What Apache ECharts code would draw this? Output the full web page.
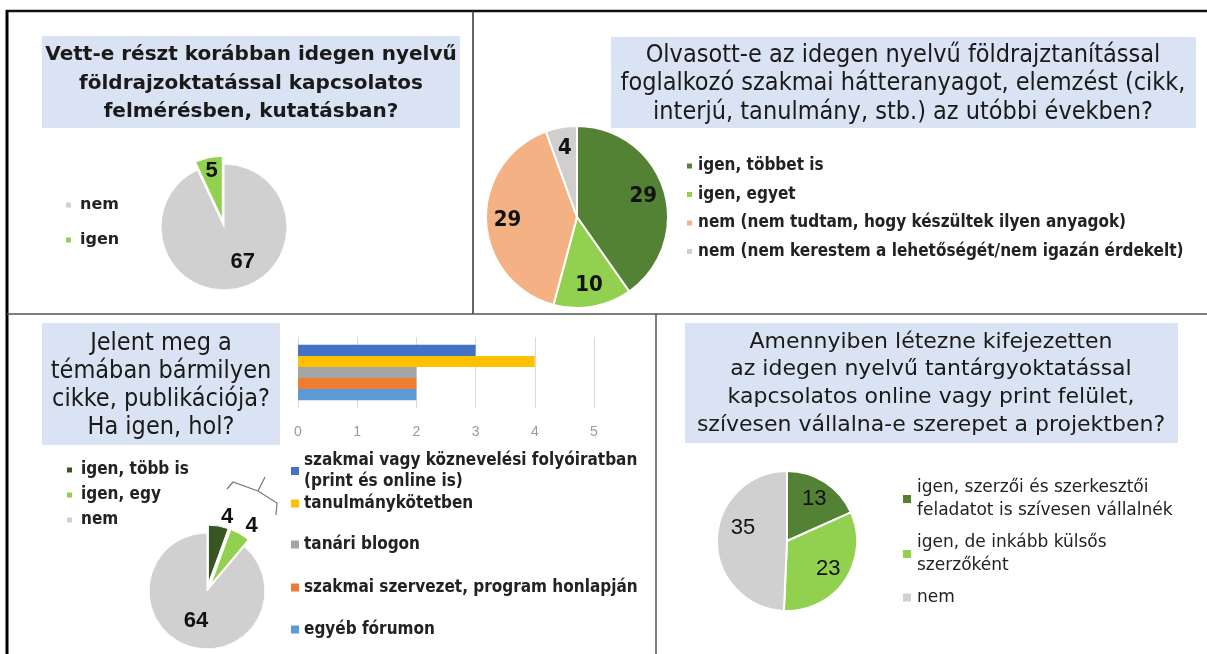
<!DOCTYPE html>
<html>
<head>
<meta charset="utf-8">
<script src="https://cdn.jsdelivr.net/npm/echarts@6/dist/echarts.min.js"></script>
<style>html,body{margin:0;padding:0;background:#fff}#chart{width:1207px;height:654px}</style>
</head>
<body>
<div id="chart"></div>
<script>
// ---- data ----
const q1Title = 'Vett-e részt korábban idegen nyelvű\nföldrajzoktatással kapcsolatos\nfelmérésben, kutatásban?';
const q1Labels = ['nem', 'igen'];
const q1Values = [67, 5];

const q2Title = 'Olvasott-e az idegen nyelvű földrajztanítással\nfoglalkozó szakmai hátteranyagot, elemzést (cikk,\ninterjú, tanulmány, stb.) az utóbbi években?';
const q2Labels = ['igen, többet is', 'igen, egyet', 'nem (nem tudtam, hogy készültek ilyen anyagok)', 'nem (nem kerestem a lehetőségét/nem igazán érdekelt)'];
const q2Values = [29, 10, 29, 4];

const q3Title = 'Jelent meg a\ntémában bármilyen\ncikke, publikációja?\nHa igen, hol?';
const q3Labels = ['igen, több is', 'igen, egy', 'nem'];
const q3Values = [4, 4, 64];

const placeLabels = ['szakmai vagy köznevelési folyóiratban\n(print és online is)', 'tanulmánykötetben', 'tanári blogon', 'szakmai szervezet, program honlapján', 'egyéb fórumon'];
const placeValues = [3, 4, 2, 2, 2];
const placeTicks = [0, 1, 2, 3, 4, 5];

const q4Title = 'Amennyiben létezne kifejezetten\naz idegen nyelvű tantárgyoktatással\nkapcsolatos online vagy print felület,\nszívesen vállalna-e szerepet a projektben?';
const q4Labels = ['igen, szerzői és szerkesztői\nfeladatot is szívesen vállalnék', 'igen, de inkább külsős\nszerzőként', 'nem'];
const q4Values = [13, 23, 35];

// ---- styles ----
const q1Colors = ['#d0d0d0', '#92d050'];
const q2Colors = ['#548235', '#92d050', '#f4b183', '#d0cece'];
const q3Colors = ['#375623', '#92d050', '#d0d0d0'];
const placeColors = ['#4472c4', '#ffc000', '#a5a5a5', '#ed7d31', '#5b9bd5'];
const q4Colors = ['#548235', '#92d050', '#d0d0d0'];
const placeLegendTops = [450, 493, 534, 577, 619];
// label nudges for large-slice labels (lift = push text up by an empty line, pad = horizontal shift)
const q1LabelLift = [true, false];
const q1LabelPad = [[0, 0, 0, 16], [0, 0, 0, 0]];
const q4LabelLift = [false, false, true];
const q4LabelPad = [[0, 0, 0, 0], [0, 0, 0, 0], [0, 0, 0, 12]];

const SANS = '"Liberation Sans", Arial, sans-serif';
const NARROW = '"DejaVu Sans Condensed", "Liberation Sans Narrow", sans-serif';
const WIDE = '"DejaVu Sans", Verdana, sans-serif';

const chart = echarts.init(document.getElementById('chart'), null, {renderer: 'canvas'});

function mkData(labels, values, colors, extra) {
  return labels.map((n, i) => Object.assign(
    {name: n, value: values[i]},
    colors ? {itemStyle: {color: colors[i]}} : {},
    extra ? extra(i) : {}));
}
const quiet = {silent: true, legendHoverLink: false, emphasis: {disabled: true}, tooltip: {show: false}};
const clear = n => Array(n).fill('rgba(0,0,0,0)');
const liftFmt = lift => (lift ? '{c}\n ' : '{c}');

const series = [];
// Q1 pie
series.push({
  type: 'pie', center: [224, 227], radius: 63, startAngle: 90, clockwise: true,
  selectedMode: 'multiple', selectedOffset: 8, animation: false,
  itemStyle: {borderColor: '#fff', borderWidth: 1},
  label: {show: false}, labelLine: {show: false}, emphasis: {disabled: true}, select: {itemStyle: {}},
  data: mkData(q1Labels, q1Values, q1Colors, i => ({selected: q1Labels[i] === 'igen'}))
});
series.push(Object.assign({
  type: 'pie', center: [224, 227], radius: [30, 63], startAngle: 90,
  selectedMode: 'multiple', selectedOffset: 8, animation: false,
  label: {show: true, position: 'inside', color: '#111', fontFamily: SANS, fontWeight: 'bold', fontSize: 22, lineHeight: 26},
  labelLine: {show: false}, select: {itemStyle: {}},
  data: mkData(q1Labels, q1Values, clear(q1Labels.length), i => ({
    selected: q1Labels[i] === 'igen',
    label: {padding: q1LabelPad[i], formatter: liftFmt(q1LabelLift[i])}
  }))
}, quiet));

// Q2 pie
series.push({
  type: 'pie', center: [577, 217], radius: 91, startAngle: 90, animation: false,
  itemStyle: {borderColor: '#fff', borderWidth: 2},
  label: {show: false}, labelLine: {show: false}, emphasis: {disabled: true},
  data: mkData(q2Labels, q2Values, q2Colors)
});
series.push(Object.assign({
  type: 'pie', center: [577, 217], radius: [42, 91], startAngle: 90, animation: false,
  label: {show: true, position: 'inside', color: '#111', fontFamily: NARROW, fontWeight: 'bold', fontSize: 22, formatter: '{c}'},
  labelLine: {show: false},
  data: mkData(q2Labels, q2Values, clear(q2Labels.length))
}, quiet));

// Q3 pie
series.push({
  type: 'pie', center: [207, 591], radius: 58, startAngle: 90, animation: false,
  selectedMode: 'multiple', selectedOffset: 8, avoidLabelOverlap: false,
  itemStyle: {borderColor: '#fff', borderWidth: 1},
  label: {show: true, color: '#111', fontFamily: SANS, fontWeight: 'bold', fontSize: 22, formatter: '{c}', distanceToLabelLine: 1},
  labelLine: {show: false, length: 9, length2: 0},
  emphasis: {disabled: true}, select: {itemStyle: {}},
  data: mkData(q3Labels, q3Values, q3Colors, i => ({
    selected: q3Labels[i] !== 'nem',
    label: {position: q3Labels[i] !== 'nem' ? 'outside' : 'inside'}
  }))
});

// Bars
placeLabels.forEach((n, i) => {
  series.push({
    type: 'bar', name: n, xAxisIndex: 0, yAxisIndex: 0, animation: false,
    barGap: '0%', barCategoryGap: '22%',
    itemStyle: {color: placeColors[i]},
    emphasis: {disabled: true},
    data: [placeValues[i]]
  });
});

// Q4 pie
series.push({
  type: 'pie', center: [787, 541], radius: 70, startAngle: 90, animation: false,
  itemStyle: {borderColor: '#fff', borderWidth: 2},
  label: {show: false}, labelLine: {show: false}, emphasis: {disabled: true},
  data: mkData(q4Labels, q4Values, q4Colors)
});
series.push(Object.assign({
  type: 'pie', center: [787, 541], radius: [24, 70], startAngle: 90, animation: false,
  label: {show: true, position: 'inside', color: '#111', fontFamily: SANS, fontSize: 22, lineHeight: 24},
  labelLine: {show: false},
  data: mkData(q4Labels, q4Values, clear(q4Labels.length), i => ({
    label: {padding: q4LabelPad[i], formatter: liftFmt(q4LabelLift[i])}
  }))
}, quiet));

const legendBase = {orient: 'vertical', icon: 'rect', selectedMode: false, padding: 0};
const legends = [
  Object.assign({}, legendBase, {left: 64, top: 196, itemWidth: 7, itemHeight: 7, itemGap: 17, data: q1Labels,
    textStyle: {fontFamily: WIDE, fontWeight: 'bold', fontSize: 16, color: '#222', lineHeight: 18, padding: [0, 0, 0, 3]}}),
  Object.assign({}, legendBase, {left: 685, top: 157, itemWidth: 7, itemHeight: 7, itemGap: 10.5, data: q2Labels,
    textStyle: {fontFamily: NARROW, fontWeight: 'bold', fontSize: 17, color: '#222', lineHeight: 18}}),
  Object.assign({}, legendBase, {left: 65, top: 461, itemWidth: 7, itemHeight: 7, itemGap: 7, data: q3Labels,
    textStyle: {fontFamily: NARROW, fontWeight: 'bold', fontSize: 17, color: '#222', lineHeight: 18, padding: [0, 0, 0, 3]}}),
  Object.assign({}, legendBase, {left: 901, top: 476, itemWidth: 10, itemHeight: 10, itemGap: 9, data: q4Labels,
    textStyle: {fontFamily: WIDE, fontSize: 17, color: '#222', lineHeight: 23}})
];
placeLabels.forEach((n, i) => {
  legends.push(Object.assign({}, legendBase, {left: 291, top: placeLegendTops[i], itemWidth: 8, itemHeight: 8, data: [n],
    textStyle: {fontFamily: NARROW, fontWeight: 'bold', fontSize: 17, color: '#222', lineHeight: 21}}));
});

const titleBase = {padding: 0, textAlign: 'center'};
const titles = [
  Object.assign({}, titleBase, {text: q1Title, left: 251, top: 41, textStyle: {fontFamily: WIDE, fontWeight: 'bold', fontSize: 20, lineHeight: 28.5, color: '#1a1a1a'}}),
  Object.assign({}, titleBase, {text: q2Title, left: 903, top: 41, textStyle: {fontFamily: NARROW, fontWeight: 'normal', fontSize: 25, lineHeight: 28.5, color: '#1a1a1a'}}),
  Object.assign({}, titleBase, {text: q3Title, left: 161, top: 329, textStyle: {fontFamily: NARROW, fontWeight: 'normal', fontSize: 25, lineHeight: 28, color: '#1a1a1a'}}),
  Object.assign({}, titleBase, {text: q4Title, left: 931, top: 328, textStyle: {fontFamily: WIDE, fontWeight: 'normal', fontSize: 22, lineHeight: 27.7, color: '#1a1a1a'}})
];

const boxStyle = {fill: '#dae3f3'};
const lineStyle = (w, c) => ({stroke: c, lineWidth: w});
const graphic = [
  {type: 'rect', z: -10, shape: {x: 42, y: 36, width: 418, height: 92}, style: boxStyle, silent: true},
  {type: 'rect', z: -10, shape: {x: 611, y: 37, width: 585, height: 91}, style: boxStyle, silent: true},
  {type: 'rect', z: -10, shape: {x: 42, y: 323, width: 238, height: 122}, style: boxStyle, silent: true},
  {type: 'rect', z: -10, shape: {x: 685, y: 323, width: 493, height: 120}, style: boxStyle, silent: true},
  {type: 'line', shape: {x1: 6, y1: 11, x2: 1207, y2: 11}, style: lineStyle(2.5, '#111'), silent: true},
  {type: 'line', shape: {x1: 7, y1: 10, x2: 7, y2: 654}, style: lineStyle(3, '#000'), silent: true},
  {type: 'line', shape: {x1: 473, y1: 11, x2: 473, y2: 314}, style: lineStyle(1.5, '#333'), silent: true},
  {type: 'line', shape: {x1: 7, y1: 314, x2: 1207, y2: 314}, style: lineStyle(1.5, '#555'), silent: true},
  {type: 'line', shape: {x1: 656, y1: 314, x2: 656, y2: 654}, style: lineStyle(1.5, '#555'), silent: true},
  // brace annotation above the two "igen" slices
  {type: 'polyline', shape: {points: [[227, 489], [233, 482], [258, 491], [277, 503], [276, 515]]}, style: {stroke: '#777', lineWidth: 1.2, fill: null}, silent: true},
  {type: 'polyline', shape: {points: [[258, 491], [265, 477]]}, style: {stroke: '#777', lineWidth: 1.2, fill: null}, silent: true}
];

chart.setOption({
  animation: false,
  title: titles,
  legend: legends,
  grid: [{left: 298, top: 337, width: 296, height: 71, containLabel: false}],
  xAxis: [{
    type: 'value', gridIndex: 0, min: placeTicks[0], max: placeTicks[placeTicks.length - 1], interval: 1,
    axisLine: {show: false}, axisTick: {show: false},
    axisLabel: {color: '#9a9a9a', fontFamily: SANS, fontSize: 14, margin: 17},
    splitLine: {show: true, lineStyle: {color: '#d9d9d9', width: 1}}
  }],
  yAxis: [{
    type: 'category', gridIndex: 0, data: [''],
    axisLine: {show: false}, axisTick: {show: false}, axisLabel: {show: false}
  }],
  series: series,
  graphic: graphic
});
</script>
</body>
</html>
